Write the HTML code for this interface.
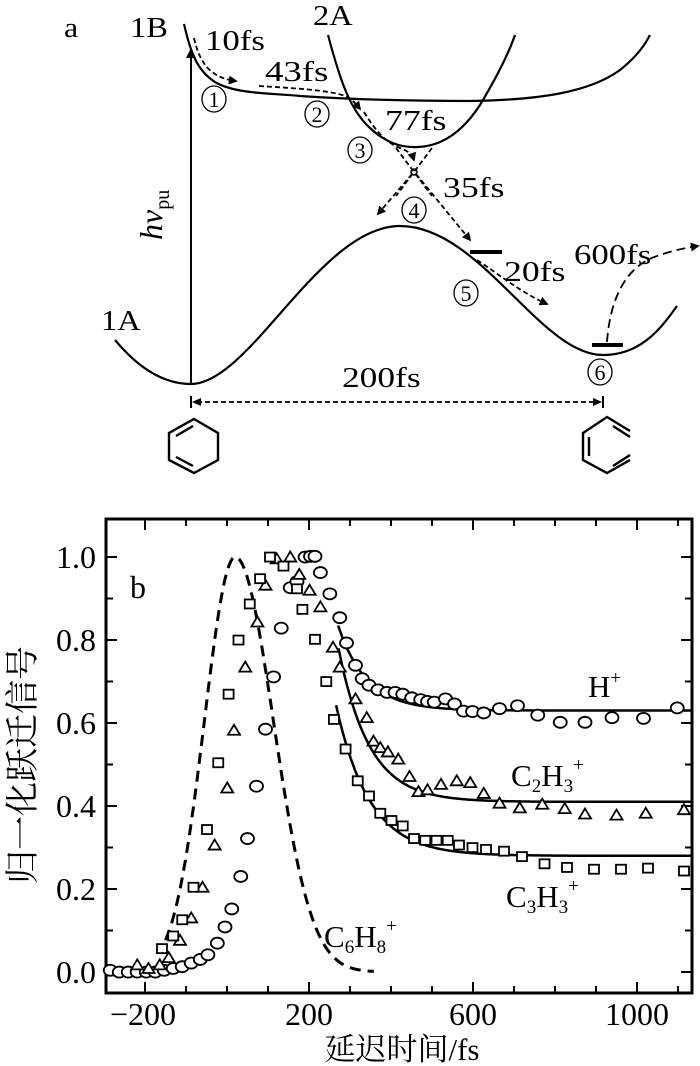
<!DOCTYPE html>
<html><head><meta charset="utf-8"><style>
html,body{margin:0;padding:0;background:#fff;}
svg{display:block;font-family:"Liberation Serif","Noto Serif CJK SC",serif;}
</style></head><body>
<svg id="s" width="700" height="1066" viewBox="0 0 700 1066" xmlns="http://www.w3.org/2000/svg">
<defs>
<marker id="ah" viewBox="0 0 10 10" refX="8" refY="5" markerWidth="5" markerHeight="5" orient="auto"><path d="M0,0 L10,5 L0,10 z" fill="#000"/></marker>
</defs>
<g fill="none" stroke="#000" stroke-width="2.2">
<path d="M184,24 C190,50 196,70 215,82 C235,94 270,93 300,96 C360,100 420,101 470,101 C540,100 590,92 620,70 C635,58 645,45 650,35"/>
<path d="M328,35 C340,80 350,110 370,128 C385,142 400,148 418,147 C445,146 465,128 480,105 C495,80 508,55 515,35"/>
<path d="M115,340 C140,370 165,384 191,384 C250,384 320,226 400,226 C480,226 540,355 603,355 C640,355 660,330 677,306"/>
<line x1="191" y1="384" x2="191" y2="50" marker-end="url(#ah)" stroke-width="2"/>
</g>
<g fill="none" stroke="#000" stroke-width="1.8" stroke-dasharray="5,3">
<path d="M194,38 C200,65 212,78 236,81" marker-end="url(#ah)"/>
<path d="M259,86 C290,88 330,90 345,96 C352,99 356,104 360,109" marker-end="url(#ah)"/>
<path d="M364,112 C375,130 385,142 400,148 C408,151 412,154 414,160" marker-end="url(#ah)"/>
<path d="M396,148 L432,196"/><path d="M432,148 L396,196"/>
<path d="M412,174 L378,214" marker-end="url(#ah)"/>
<path d="M416,174 L470,240" marker-end="url(#ah)"/>
<path d="M477,260 C500,275 520,292 547,304" marker-end="url(#ah)"/>
<path d="M607,342 C610,300 625,265 660,255 C675,250 685,248 698,246" stroke-dasharray="9,5" marker-end="url(#ah)"/>
<line x1="197" y1="402" x2="598" y2="402"/>
</g>
<circle cx="414" cy="172" r="3" fill="none" stroke="#000" stroke-width="1.5"/>
<rect x="470" y="250" width="32" height="4" fill="#000"/>
<rect x="592" y="343" width="31" height="4" fill="#000"/>
<path d="M191,396 L191,408 M603,396 L603,408" stroke="#000" stroke-width="2"/>
<path d="M192,402 L201,398 L201,406 z M602,402 L593,398 L593,406 z" fill="#000"/>
<g fill="none" stroke="#000" stroke-width="2.4">
<path d="M194,419 L218,433 L218,460 L194,473 L169,460 L169,433 z"/>
<path d="M176,436 L193,426 M176,457 L193,466"/>
<path d="M630,431 L607,417 L583,433 L583,460 L607,473 L630,460"/>
<path d="M613,426 L630,437 M613,466 L630,455 M589,437 L589,456"/>
</g>
<g fill="none" stroke="#000" stroke-width="1.3">
<ellipse cx="214" cy="99" rx="12" ry="13"/><ellipse cx="317" cy="114" rx="12" ry="13"/>
<ellipse cx="360" cy="150" rx="12" ry="13"/><ellipse cx="414" cy="210" rx="12" ry="13"/>
<ellipse cx="466" cy="293" rx="12" ry="13"/><ellipse cx="600" cy="372" rx="12" ry="13"/>
</g>
<g font-size="22" text-anchor="middle">
<text x="214" y="107">1</text><text x="317" y="122">2</text><text x="360" y="158">3</text>
<text x="414" y="218">4</text><text x="466" y="301">5</text><text x="600" y="380">6</text>
</g>
<g font-size="29">
<text transform="translate(64,37) scale(1.1,1)">a</text>
<text transform="translate(130,37) scale(1.12,1)">1B</text>
<text transform="translate(313,25) scale(1.12,1)">2A</text>
<text transform="translate(101,330) scale(1.12,1)">1A</text>
<text transform="translate(205,50) scale(1.2,1)">10fs</text>
<text transform="translate(265,81) scale(1.27,1)">43fs</text>
<text transform="translate(385,130) scale(1.23,1)">77fs</text>
<text transform="translate(443,197) scale(1.23,1)">35fs</text>
<text transform="translate(504,281) scale(1.23,1)">20fs</text>
<text transform="translate(574,264) scale(1.2,1)">600fs</text>
<text transform="translate(342,387) scale(1.22,1)">200fs</text>
<text transform="translate(162,240) rotate(-90)" font-size="32"><tspan font-style="italic">hv</tspan><tspan font-size="20" dy="7">pu</tspan></text>
</g>

<rect x="106" y="519" width="586" height="474" fill="none" stroke="#000" stroke-width="3"/>
<g id="ticks" stroke="#000" stroke-width="2"></g>
<g font-size="32" text-anchor="end">
<text x="96" y="983">0.0</text><text x="96" y="900">0.2</text><text x="96" y="817">0.4</text>
<text x="96" y="734">0.6</text><text x="96" y="651">0.8</text><text x="96" y="568">1.0</text>
</g>
<g font-size="32" text-anchor="middle">
<text x="143" y="1025">−200</text><text x="309" y="1025">200</text>
<text x="473" y="1025">600</text><text x="637" y="1025">1000</text>
<text x="402" y="1060" font-size="31">延迟时间/fs</text>
<text transform="translate(34,765) rotate(-90)" font-size="34">归一化跃迁信号</text>
</g>
<text x="130" y="598" font-size="32">b</text>
<g font-size="31">
<text x="588" y="697">H<tspan font-size="19" dy="-13">+</tspan></text>
<text x="511" y="786">C<tspan font-size="19" dy="6">2</tspan><tspan dy="-6">H</tspan><tspan font-size="19" dy="6">3</tspan><tspan font-size="19" dy="-21">+</tspan></text>
<text x="506" y="907">C<tspan font-size="19" dy="6">3</tspan><tspan dy="-6">H</tspan><tspan font-size="19" dy="6">3</tspan><tspan font-size="19" dy="-21">+</tspan></text>
<text x="324" y="947">C<tspan font-size="19" dy="6">6</tspan><tspan dy="-6">H</tspan><tspan font-size="19" dy="6">8</tspan><tspan font-size="19" dy="-21">+</tspan></text>
</g>
<g id="data"></g>
</svg>
<script>
var NS="http://www.w3.org/2000/svg";
function el(p,n,a){var e=document.createElementNS(NS,n);for(var k in a)e.setAttribute(k,a[k]);p.appendChild(e);return e;}
var X=function(t){return 227+0.41*t;}, Y=function(v){return 972-415*v;};
var tk=document.getElementById('ticks');
for(var i=0;i<=10;i++){var y=Y(i/10),L=i%2==0?11:7;
 el(tk,'line',{x1:106,y1:y,x2:106+L,y2:y});el(tk,'line',{x1:692,y1:y,x2:692-L,y2:y});}
for(var t=-200;t<=1100;t+=100){var x=X(t),L=7;
 if(t==-200||t==200||t==600||t==1000)L=11;
 el(tk,'line',{x1:x,y1:993,x2:x,y2:993-L});el(tk,'line',{x1:x,y1:519,x2:x,y2:519+L});}
var d=document.getElementById('data');
var pts=[];for(var t=-150;t<=360;t+=4){var s=t<20?75:93;var v=Math.exp(-Math.pow(t-20,2)/(2*s*s));pts.push(X(t).toFixed(1)+","+Y(v).toFixed(1));}
el(d,'polyline',{points:pts.join(" "),fill:"none",stroke:"#000","stroke-width":3,"stroke-dasharray":"11,7"});
function fit(t0,v0,vinf,tau){var p=[];for(var t=t0;t<=1137;t+=4){var v=vinf+(v0-vinf)*Math.exp(-(t-t0)/tau);p.push(X(t).toFixed(1)+","+Y(v).toFixed(1));}
 el(d,'polyline',{points:p.join(" "),fill:"none",stroke:"#000","stroke-width":2.5});}
fit(271,0.835,0.63,70);fit(272,0.78,0.41,75);fit(266,0.643,0.28,82);
function zx(a){return 0.45*a;} function zy(b){return 499.3+0.3609*b;}
var C=[[245,1305],[265,1310],[285,1310],[305,1310],[325,1310],[345,1310],[365,1305],[385,1300],[405,1295],[425,1285],[445,1275],[462,1262],[483,1230],[500,1185],[515,1135],[535,1045],[550,940],[570,795],[590,637],[608,492],[625,357],[645,245],[660,228],[678,160],[690,158],[700,158],[712,203],[733,262],[755,328],[770,398],[790,460],[805,497],[820,515],[840,528],[860,535],[878,535],[895,540],[915,550],[935,555],[950,560],[965,562],[990,553],[1010,567],[1030,587],[1050,588],[1075,592],[1110,580],[1150,572],[1195,598],[1245,618],[1300,618],[1360,605],[1430,607],[1505,578]];
var T=[[305,1290],[330,1300],[355,1290],[375,1270],[400,1222],[425,1160],[450,1075],[477,958],[505,800],[520,640],[545,465],[572,340],[590,238],[615,165],[645,160],[665,208],[688,252],[712,298],[740,410],[755,465],[790,553],[815,605],[830,670],[845,688],[862,700],[885,720],[910,768],[930,810],[950,805],[980,790],[1015,780],[1045,785],[1075,815],[1110,842],[1155,855],[1205,845],[1255,857],[1300,872],[1370,875],[1435,870],[1520,860]];
var S=[[360,1245],[385,1210],[405,1165],[430,1075],[460,915],[485,730],[508,540],[530,390],[555,290],[578,220],[600,160],[630,185],[660,248],[672,305],[700,388],[725,505],[742,610],[768,692],[795,780],[820,822],[845,870],[870,890],[895,905],[920,940],[945,945],[970,945],[995,945],[1020,958],[1050,965],[1080,970],[1120,975],[1160,990],[1210,1010],[1260,1020],[1320,1025],[1380,1025],[1440,1022],[1520,1030]];
var st={fill:"#fff",stroke:"#000","stroke-width":1.8};
C.forEach(function(p){el(d,'ellipse',Object.assign({cx:zx(p[0]),cy:zy(p[1]),rx:6.5,ry:5.5},st));});
T.forEach(function(p){var x=zx(p[0]),y=zy(p[1]);el(d,'path',Object.assign({d:"M"+(x-6)+","+(y+4.5)+" L"+(x+6)+","+(y+4.5)+" L"+x+","+(y-5.5)+" z"},st));});
S.forEach(function(p){var x=zx(p[0]),y=zy(p[1]);el(d,'rect',Object.assign({x:x-5,y:y-4.5,width:10,height:9},st));});
</script>
</body></html>
